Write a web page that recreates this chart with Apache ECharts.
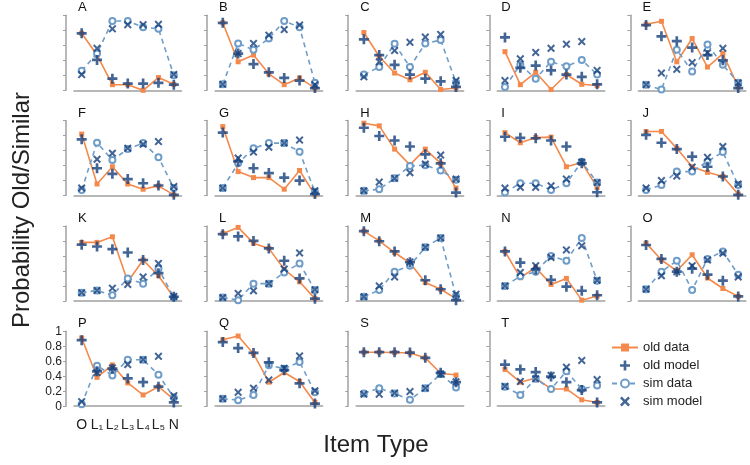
<!DOCTYPE html>
<html><head><meta charset="utf-8">
<script src="https://cdn.jsdelivr.net/npm/echarts@6/dist/echarts.min.js"></script>
<style>html,body{margin:0;padding:0;background:#fff}#c{width:750px;height:465px}</style>
</head><body><div id="c"></div>
<script>
const categories = ['O', 'L\u2081', 'L\u2082', 'L\u2083', 'L\u2084', 'L\u2085', 'N'];
const panelNames = ['A','B','C','D','E','F','G','H','I','J','K','L','M','N','O','P','Q','S','T'];
const yTicks = [0, 0.2, 0.4, 0.6, 0.8, 1];

const oldData = [
  [0.76,0.47,0.075,0.075,0.0,0.17,0.08],
  [0.90,0.38,0.47,0.22,0.075,0.165,0.03],
  [0.77,0.45,0.23,0.14,0.24,0.01,0.03],
  [0.515,0.075,0.24,0.01,0.21,0.08,0.065],
  [0.88,0.92,0.38,0.69,0.31,0.49,0.045],
  [0.82,0.155,0.385,0.155,0.085,0.13,0.01],
  [0.92,0.32,0.24,0.24,0.085,0.335,0.01],
  [0.965,0.93,0.62,0.41,0.62,0.43,0.10],
  [0.84,0.705,0.775,0.78,0.385,0.44,0.11],
  [0.855,0.855,0.63,0.385,0.31,0.255,0.02],
  [0.78,0.78,0.855,0.255,0.545,0.335,0.045],
  [0.90,0.98,0.77,0.70,0.42,0.255,0.03],
  [0.93,0.80,0.645,0.505,0.245,0.155,0.03],
  [0.66,0.31,0.445,0.22,0.30,0.01,0.065],
  [0.77,0.545,0.40,0.615,0.305,0.165,0.06],
  [0.91,0.385,0.55,0.31,0.15,0.26,0.09],
  [0.885,0.935,0.70,0.32,0.45,0.33,0.05],
  [0.72,0.72,0.715,0.71,0.645,0.44,0.415],
  [0.49,0.32,0.375,0.23,0.23,0.085,0.05]
];
const oldModel = [
  [0.76,0.405,0.155,0.09,0.09,0.10,0.075],
  [0.90,0.49,0.35,0.24,0.165,0.13,0.03],
  [0.68,0.47,0.34,0.21,0.155,0.12,0.045],
  [0.705,0.30,0.33,0.265,0.21,0.18,0.08],
  [0.87,0.72,0.655,0.57,0.47,0.40,0.03],
  [0.75,0.365,0.29,0.22,0.165,0.135,0.01],
  [0.84,0.455,0.365,0.30,0.24,0.20,0.02],
  [0.905,0.795,0.735,0.655,0.55,0.43,0.04],
  [0.785,0.77,0.765,0.735,0.655,0.43,0.045],
  [0.81,0.705,0.62,0.52,0.385,0.255,0.01],
  [0.75,0.725,0.69,0.645,0.545,0.37,0.055],
  [0.89,0.86,0.80,0.70,0.535,0.30,0.03],
  [0.93,0.795,0.66,0.515,0.275,0.155,0.01],
  [0.66,0.51,0.42,0.28,0.19,0.135,0.075],
  [0.745,0.56,0.39,0.43,0.35,0.27,0.06],
  [0.88,0.465,0.50,0.37,0.32,0.26,0.05],
  [0.855,0.775,0.71,0.585,0.48,0.305,0.035],
  [0.72,0.72,0.72,0.715,0.645,0.445,0.32],
  [0.555,0.49,0.455,0.395,0.32,0.215,0.05]
];
const simData = [
  [0.26,0.49,0.925,0.925,0.84,0.82,0.20],
  [0.08,0.625,0.54,0.69,0.925,0.84,0.10],
  [0.21,0.31,0.62,0.31,0.625,0.67,0.105],
  [0.045,0.34,0.155,0.38,0.32,0.405,0.21],
  [0.075,0.01,0.54,0.25,0.61,0.34,0.10],
  [0.075,0.705,0.475,0.62,0.70,0.51,0.10],
  [0.10,0.43,0.63,0.70,0.70,0.585,0.05],
  [0.065,0.085,0.23,0.395,0.405,0.335,0.21],
  [0.04,0.165,0.165,0.075,0.165,0.45,0.175],
  [0.075,0.14,0.32,0.32,0.455,0.58,0.14],
  [0.11,0.14,0.075,0.30,0.23,0.43,0.045],
  [0.045,0.01,0.23,0.23,0.38,0.50,0.145],
  [0.055,0.145,0.39,0.47,0.715,0.84,0.065],
  [0.20,0.33,0.39,0.60,0.535,0.84,0.27],
  [0.155,0.39,0.535,0.145,0.56,0.66,0.35],
  [0.025,0.54,0.41,0.62,0.62,0.42,0.115],
  [0.10,0.08,0.15,0.545,0.50,0.59,0.185],
  [0.17,0.24,0.17,0.085,0.24,0.43,0.25],
  [0.26,0.15,0.365,0.23,0.465,0.23,0.275]
];
const simModel = [
  [0.21,0.56,0.82,0.875,0.875,0.88,0.21],
  [0.08,0.49,0.625,0.735,0.81,0.87,0.075],
  [0.18,0.38,0.53,0.64,0.71,0.745,0.13],
  [0.13,0.42,0.505,0.56,0.615,0.65,0.265],
  [0.075,0.23,0.28,0.37,0.50,0.56,0.10],
  [0.10,0.485,0.565,0.63,0.685,0.72,0.12],
  [0.10,0.50,0.58,0.645,0.70,0.74,0.065],
  [0.065,0.18,0.23,0.305,0.42,0.54,0.22],
  [0.10,0.11,0.11,0.13,0.22,0.445,0.175],
  [0.10,0.20,0.26,0.38,0.51,0.655,0.155],
  [0.11,0.14,0.17,0.22,0.32,0.50,0.06],
  [0.045,0.10,0.135,0.23,0.425,0.64,0.15],
  [0.055,0.20,0.32,0.52,0.715,0.84,0.09],
  [0.20,0.38,0.47,0.58,0.68,0.735,0.275],
  [0.155,0.335,0.39,0.47,0.545,0.635,0.32],
  [0.06,0.45,0.51,0.555,0.62,0.665,0.14],
  [0.10,0.185,0.24,0.35,0.505,0.67,0.205],
  [0.16,0.16,0.175,0.195,0.24,0.43,0.325],
  [0.265,0.33,0.365,0.41,0.52,0.61,0.355]
];

const ORANGE = '#f4894b';
const NAVY = '#143f7c';
const LIGHT = '#6f9dc8';
const AXIS = '#a0a0a0';
const FONT = '"Liberation Sans", Arial, sans-serif';
const PLUS = 'path://M3.3,0H5.7V3.3H9V5.7H5.7V9H3.3V5.7H0V3.3H3.3Z';
const CROSS = 'path://M0,1.6L1.6,0L4.5,2.9L7.4,0L9,1.6L6.1,4.5L9,7.4L7.4,9L4.5,6.1L1.6,9L0,7.4L2.9,4.5Z';

const chart = echarts.init(document.getElementById('c'), null, {renderer: 'canvas'});
const grids = [], xAxes = [], yAxes = [], series = [], titles = [];
const LABEL_PANEL = 15;
panelNames.forEach((name, i) => {
  const r = Math.floor(i / 5), c = i % 5;
  const left = 74 + 141.1 * c, top = 15.3 + 105.3 * r;
  grids.push({left: left, top: top, width: 107.5, height: 75, containLabel: false});
  titles.push({text: name, left: left + 4, top: top - 14, padding: 0,
    textStyle: {fontSize: 13, fontWeight: 'normal', color: '#111', fontFamily: FONT}});
  const showLab = i === LABEL_PANEL;
  xAxes.push({type: 'category', gridIndex: i, data: categories, boundaryGap: true, offset: 5,
    axisLine: {lineStyle: {color: AXIS, width: 1.5}},
    axisTick: {alignWithLabel: true, length: 3, lineStyle: {color: AXIS, width: 1}},
    axisLabel: {show: showLab, color: '#222', fontSize: 14, margin: 7, fontFamily: FONT, interval: 0},
    splitLine: {show: false}});
  yAxes.push({type: 'value', gridIndex: i, min: yTicks[0], max: yTicks[yTicks.length - 1], interval: 0.2, offset: 8,
    axisLine: {show: true, lineStyle: {color: AXIS, width: 1.5}},
    axisTick: {show: true, length: 3, lineStyle: {color: AXIS, width: 1}},
    axisLabel: {show: showLab, color: '#222', fontSize: 12, margin: 4, fontFamily: FONT},
    splitLine: {show: false}});
  series.push({name: 'old data', type: 'line', xAxisIndex: i, yAxisIndex: i, data: oldData[i],
    symbol: 'rect', symbolSize: 5, showAllSymbol: true, z: 2,
    itemStyle: {color: ORANGE}, lineStyle: {color: ORANGE, width: 1.6}});
  series.push({name: 'old model', type: 'scatter', xAxisIndex: i, yAxisIndex: i, data: oldModel[i],
    symbol: PLUS, symbolSize: 10, z: 4, itemStyle: {color: NAVY}});
  series.push({name: 'sim data', type: 'line', xAxisIndex: i, yAxisIndex: i, data: simData[i],
    symbol: 'emptyCircle', symbolSize: 6, showAllSymbol: true, z: 3,
    itemStyle: {color: LIGHT, borderWidth: 1.3}, lineStyle: {color: LIGHT, width: 1.6, type: [5, 4]}});
  series.push({name: 'sim model', type: 'scatter', xAxisIndex: i, yAxisIndex: i, data: simModel[i],
    symbol: CROSS, symbolSize: 8, z: 5, itemStyle: {color: NAVY}});
});

chart.setOption({
  animation: false,
  backgroundColor: '#fff',
  textStyle: {fontFamily: FONT},
  title: titles,
  grid: grids,
  xAxis: xAxes,
  yAxis: yAxes,
  series: series,
  legend: {orient: 'vertical', left: 606, top: 336, itemWidth: 26, itemHeight: 10, itemGap: 5,
    symbolKeepAspect: true,
    data: ['old data', 'old model', 'sim data', 'sim model'],
    textStyle: {fontSize: 13, color: '#222', fontFamily: FONT}},
  graphic: [
    {type: 'text', x: 22, y: 210, rotation: Math.PI / 2,
      style: {text: 'Probability Old/Similar', font: '24px ' + FONT, fill: '#222', align: 'center', verticalAlign: 'middle'}},
    {type: 'text', x: 376, y: 445,
      style: {text: 'Item Type', font: '24px ' + FONT, fill: '#222', align: 'center', verticalAlign: 'middle'}}
  ]
});
</script>
</body></html>
